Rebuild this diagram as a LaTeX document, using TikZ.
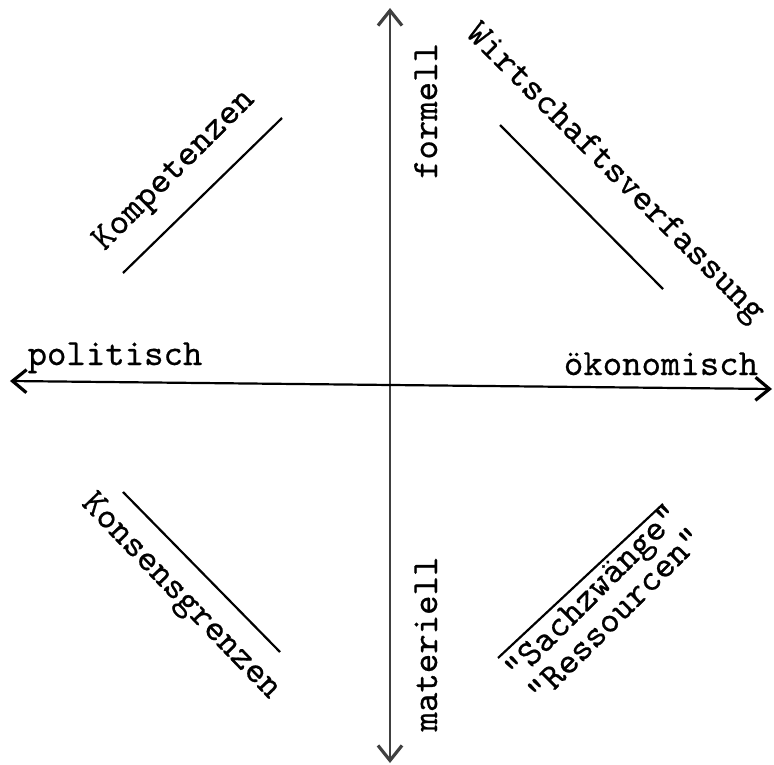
\documentclass[tikz,border=0pt]{standalone}
\usepackage{fontspec}
\newfontfamily\twfont{lmmono10-regular.otf}[FakeBold=0.5]
\usetikzlibrary{arrows.meta}
\begin{document}
\begin{tikzpicture}[x=1pt,y=-1pt,
  lbl/.style={font=\fontsize{37}{40}\selectfont\twfont, inner sep=0pt, anchor=base},
  axis/.style={line width=2.2pt, {Straight Barb[length=14pt,width=23pt,line width=3.2pt]}-{Straight Barb[length=14pt,width=23pt,line width=3.2pt]}},
  vaxis/.style={line width=1.8pt, black!75, {Straight Barb[length=15pt,width=24pt,line width=3.2pt]}-{Straight Barb[length=15pt,width=24pt,line width=3.2pt]}},
  bar/.style={line width=2.2pt}]
\useasboundingbox (0,0) rectangle (774,765);
% axes
\coordinate (L) at (10,381);
\coordinate (R) at (772,389);
\coordinate (T) at (390,8);
\coordinate (B) at (390,763);
\draw[vaxis] (T) -- (B);
\draw[axis] (L) -- (R);
% axis labels
\node[lbl] (pol) at (115,365) {politisch};
\node[lbl] (oek) at (661,375) {ökonomisch};
\node[lbl,rotate=90] (form) at (437,111) {formell};
\node[lbl,rotate=90] (mat) at (437,644) {materiell};
% quadrant labels
\node[lbl,rotate=45] (komp) at (180,176) {Kompetenzen};
\node[lbl,rotate=-45] (wirt) at (609,179) {Wirtschaftsverfassung};
\node[lbl,rotate=-46] (kons) at (175,602) {Konsensgrenzen};
\node[lbl,rotate=45,anchor=base west] (sach) at (517,682) {"Sachzwänge"};
\node[lbl,rotate=45,anchor=base west] (ress) at (540,705) {"Ressourcen"};
% bars
\coordinate (k1) at (123,273); \coordinate (k2) at (282,118);
\coordinate (w1) at (500,125); \coordinate (w2) at (663,289);
\coordinate (g1) at (123,492); \coordinate (g2) at (280,652);
\coordinate (s1) at (498,658); \coordinate (s2) at (663,504);
\draw[bar] (k1) -- (k2);
\draw[bar] (w1) -- (w2);
\draw[bar] (g1) -- (g2);
\draw[bar] (s1) -- (s2);
\end{tikzpicture}
\end{document}
